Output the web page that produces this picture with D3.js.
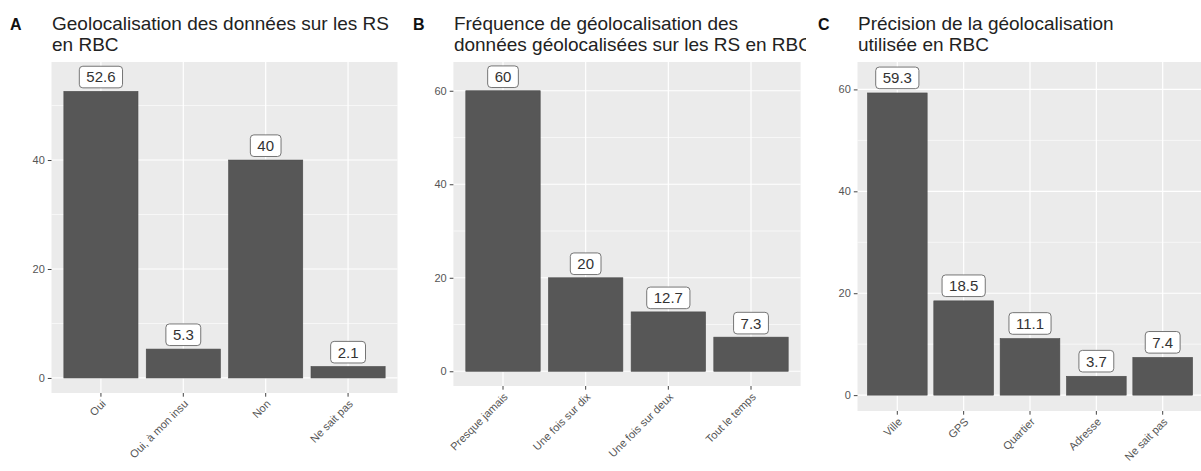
<!DOCTYPE html>
<html>
<head>
<meta charset="utf-8">
<script src="https://cdn.jsdelivr.net/npm/d3@7"></script>
<style>
  body { margin: 0; background: #fff; }
  svg { display: block; }
  text { font-family: "Liberation Sans", Arial, sans-serif; }
</style>
</head>
<body>
<div id="chart"></div>
<script>
// data
const catsA = ["Oui", "Oui, à mon insu", "Non", "Ne sait pas"];
const valsA = [52.6, 5.3, 40, 2.1];
const ticksA = [0, 20, 40];

const catsB = ["Presque jamais", "Une fois sur dix", "Une fois sur deux", "Tout le temps"];
const valsB = [60, 20, 12.7, 7.3];
const ticksB = [0, 20, 40, 60];

const catsC = ["Ville", "GPS", "Quartier", "Adresse", "Ne sait pas"];
const valsC = [59.3, 18.5, 11.1, 3.7, 7.4];
const ticksC = [0, 20, 40, 60];

const panels = [
  {tag: "A", title: ["Geolocalisation des données sur les RS", "en RBC"],
   cats: catsA, vals: valsA, ticks: ticksA,
   clip: [0, 408], tagX: 10, left: 51.5, right: 397.5, top: 62, bottom: 393},
  {tag: "B", title: ["Fréquence de géolocalisation des", "données géolocalisées sur les RS en RBC"],
   cats: catsB, vals: valsB, ticks: ticksB,
   clip: [408, 806], tagX: 413, left: 453.4, right: 800.6, top: 62, bottom: 386},
  {tag: "C", title: ["Précision de la géolocalisation", "utilisée en RBC"],
   cats: catsC, vals: valsC, ticks: ticksC,
   clip: [806, 1201], tagX: 818, left: 857.5, right: 1202.5, top: 62, bottom: 411}
];

const W = 1201, H = 471;
const barColor = '#575757', panelBg = '#EBEBEB', axisText = '#555';

const svg = d3.select('#chart').append('svg')
  .attr('width', W)
  .attr('height', H);

const defs = svg.append('defs');

panels.forEach((p, i) => {
  defs.append('clipPath').attr('id', 'clip' + i)
    .append('rect')
    .attr('x', p.clip[0]).attr('y', 0)
    .attr('width', p.clip[1] - p.clip[0]).attr('height', H);

  const g = svg.append('g').attr('clip-path', `url(#clip${i})`);

  const maxV = d3.max(p.vals);
  const nudge = 0.05 * maxV; // labels sit above the bars
  const M = maxV + nudge;

  const y = d3.scaleLinear()
    .domain([-0.05 * M, 1.05 * M])
    .range([p.bottom, p.top]);

  const x = d3.scaleBand()
    .domain(p.cats)
    .range([p.left, p.right])
    .paddingInner(0.1)
    .paddingOuter(0.15);

  // panel background
  g.append('rect')
    .attr('x', p.left).attr('y', p.top)
    .attr('width', p.right - p.left).attr('height', p.bottom - p.top)
    .attr('fill', panelBg);

  // minor grid
  const step = p.ticks[1] - p.ticks[0];
  const minor = d3.range(step / 2, y.domain()[1], step);
  g.selectAll('.minor').data(minor).enter().append('line')
    .attr('x1', p.left).attr('x2', p.right)
    .attr('y1', d => y(d)).attr('y2', d => y(d))
    .attr('stroke', '#fff').attr('stroke-width', 0.6);

  // major grid
  g.selectAll('.major').data(p.ticks).enter().append('line')
    .attr('x1', p.left).attr('x2', p.right)
    .attr('y1', d => y(d)).attr('y2', d => y(d))
    .attr('stroke', '#fff').attr('stroke-width', 1.2);

  g.selectAll('.vgrid').data(p.cats).enter().append('line')
    .attr('x1', d => x(d) + x.bandwidth() / 2).attr('x2', d => x(d) + x.bandwidth() / 2)
    .attr('y1', p.top).attr('y2', p.bottom)
    .attr('stroke', '#fff').attr('stroke-width', 1.2);

  // bars
  g.selectAll('.bar').data(p.cats).enter().append('rect')
    .attr('x', d => x(d))
    .attr('width', x.bandwidth())
    .attr('y', (d, j) => y(p.vals[j]))
    .attr('height', (d, j) => y(0) - y(p.vals[j]))
    .attr('fill', barColor)
    .attr('stroke', '#4a4a4a')
    .attr('stroke-width', 0.6);

  // value labels
  const lab = g.selectAll('.lab').data(p.cats).enter().append('g')
    .attr('transform', (d, j) => `translate(${x(d) + x.bandwidth() / 2},${y(p.vals[j] + nudge)})`);
  lab.append('rect');
  const txt = lab.append('text')
    .attr('text-anchor', 'middle')
    .attr('dy', '0.36em')
    .attr('font-size', 15)
    .attr('fill', '#333')
    .text((d, j) => p.vals[j]);
  txt.each(function () {
    const w = this.getComputedTextLength();
    d3.select(this.previousSibling)
      .attr('x', -w / 2 - 7).attr('y', -10.8)
      .attr('width', w + 14).attr('height', 21.6)
      .attr('rx', 3.5)
      .attr('fill', '#fff')
      .attr('stroke', '#666')
      .attr('stroke-width', 0.9);
  });

  // y axis
  const yAx = g.append('g')
    .attr('transform', `translate(${p.left},0)`)
    .call(d3.axisLeft(y).tickValues(p.ticks).tickSize(3.7).tickPadding(3));
  yAx.select('.domain').remove();
  yAx.selectAll('line').attr('stroke', '#444');
  yAx.selectAll('text')
    .attr('font-size', 11)
    .attr('fill', axisText)
    .style('font-family', '"Liberation Sans", Arial, sans-serif');

  // x axis, labels turned 45 degrees
  const xAx = g.append('g')
    .attr('transform', `translate(0,${p.bottom})`)
    .call(d3.axisBottom(x).tickSize(3.7));
  xAx.select('.domain').remove();
  xAx.selectAll('line').attr('stroke', '#444');
  xAx.selectAll('text')
    .attr('font-size', 11)
    .attr('fill', axisText)
    .style('font-family', '"Liberation Sans", Arial, sans-serif')
    .attr('text-anchor', 'end')
    .attr('x', 0)
    .attr('y', 0)
    .attr('dy', '0.71em')
    .attr('transform', 'translate(0,6) rotate(-45)');

  // tag + title
  g.append('text')
    .attr('x', p.tagX).attr('y', 30)
    .attr('font-size', 16).attr('font-weight', 'bold')
    .attr('fill', '#111')
    .text(p.tag);
  g.append('text')
    .attr('x', p.left + 0.5).attr('y', 30)
    .attr('font-size', 19)
    .attr('fill', '#222')
    .selectAll('tspan').data(p.title).enter().append('tspan')
    .attr('x', p.left + 0.5)
    .attr('dy', (d, j) => j ? 20.5 : 0)
    .text(d => d);
});
</script>
</body>
</html>
